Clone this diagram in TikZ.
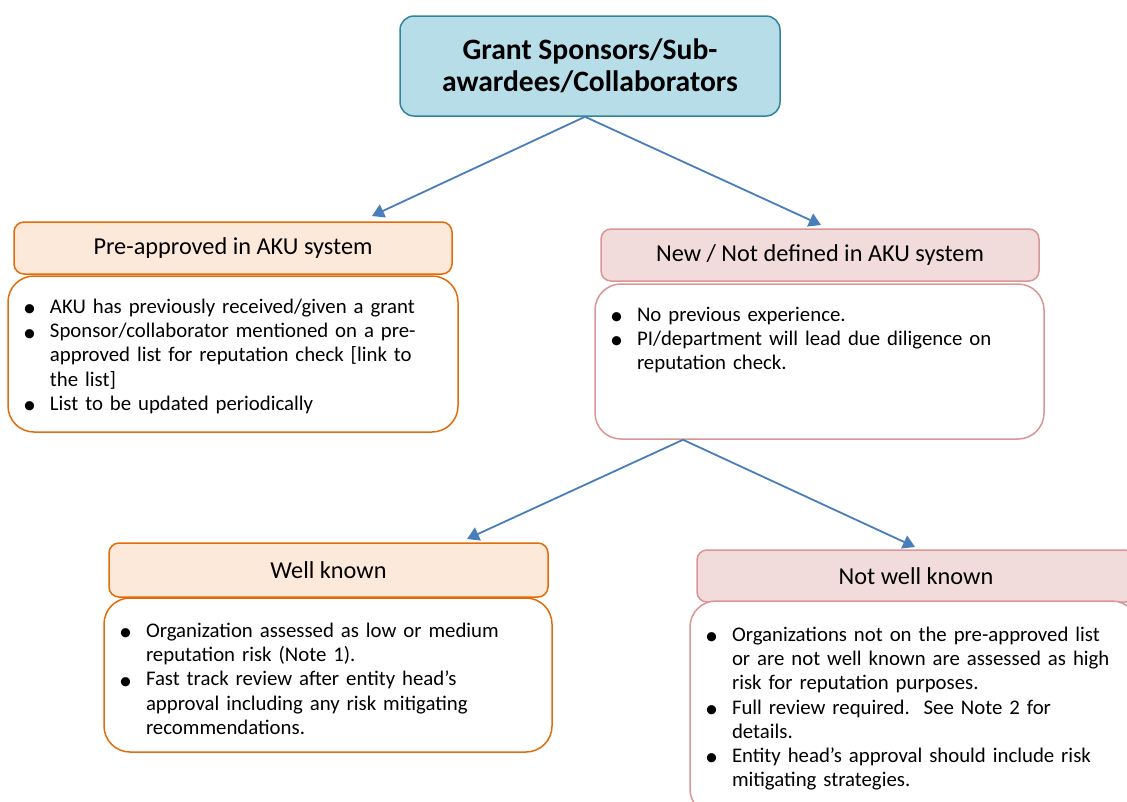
\documentclass[tikz,border=0pt]{standalone}
\usepackage{fontspec}
\setmainfont{Carlito}
\usepackage{enumitem}
\usetikzlibrary{arrows.meta}

\definecolor{tealfill}{HTML}{B7DDE8}
\definecolor{tealline}{HTML}{31849B}
\definecolor{orangefill}{HTML}{FDE9D9}
\definecolor{orangeline}{HTML}{E36C09}
\definecolor{pinkfill}{HTML}{F2DCDB}
\definecolor{pinkline}{HTML}{D99694}
\definecolor{arrowblue}{HTML}{4A7EBB}

% bullet list inside a body box: [top gap], height, items
\newcommand{\boxlist}[3][23pt]{%
  \begin{minipage}[c][#2][t]{\linewidth}
    \vspace*{#1}
    \begin{itemize}[leftmargin=42pt,labelsep=14pt,itemsep=0pt,parsep=0pt,topsep=0pt,partopsep=0pt,
        label={\raisebox{-0.35ex}{\scalebox{1.25}{\textbullet}}}]
      #3
    \end{itemize}
  \end{minipage}}

\begin{document}
\begin{tikzpicture}[x=1pt, y=-1pt,
    headbox/.style={draw, line width=1.5pt, rounded corners=10pt, inner sep=0pt,
      font=\fontsize{24.3}{28}\selectfont},
    bodybox/.style={draw, line width=1.5pt, fill=white, rounded corners=26pt, inner sep=0pt,
      align=left, font=\fontsize{20.8}{24.2}\selectfont},
    flow/.style={draw=arrowblue, line width=1.8pt, -{Triangle[length=12pt,width=14pt]}, arrowblue}]
  \useasboundingbox (0,0) rectangle (1127,801);
  \clip (0,0) rectangle (1127,801);
  % Top box
  \node[draw=tealline, fill=tealfill, line width=1.5pt, rounded corners=14pt,
    minimum width=380pt, minimum height=100pt, align=center,
    font=\fontsize{29.6}{32}\selectfont\bfseries] (top) at (590,66)
    {Grant Sponsors/Sub-\\awardees/Collaborators};
  % Pre-approved branch
  \node[headbox, draw=orangeline, fill=orangefill, minimum width=438pt, minimum height=52pt]
    (prehead) at (233,248) {Pre-approved in AKU system};
  \node[bodybox, draw=orangeline, text width=450pt] (prebody) at (233,354)
    {\boxlist{156pt}{%
      \item AKU has previously received/given a grant
      \item Sponsor/collaborator mentioned on a pre-\newline approved list for reputation check [link to\newline the list]
      \item List to be updated periodically}};
  % New branch
  \node[headbox, draw=pinkline, fill=pinkfill, minimum width=438pt, minimum height=52pt]
    (newhead) at (820,255) {New / Not defined in AKU system};
  \node[bodybox, draw=pinkline, text width=449pt] (newbody) at (819.5,361.5)
    {\boxlist{155pt}{%
      \item No previous experience.
      \item PI/department will lead due diligence on\newline reputation check.}};
  % Well known
  \node[headbox, draw=orangeline, fill=orangefill, minimum width=439pt, minimum height=54pt]
    (wellhead) at (328.5,570) {Well known};
  \node[bodybox, draw=orangeline, text width=448pt] (wellbody) at (328,675)
    {\boxlist[25pt]{154pt}{%
      \item Organization assessed as low or medium\newline reputation risk (Note 1).
      \item Fast track review after entity head’s\newline approval including any risk mitigating\newline recommendations.}};
  % Not well known
  \node[headbox, draw=pinkline, fill=pinkfill, minimum width=438pt, minimum height=52pt]
    (notwellhead) at (916,576) {Not well known};
  \node[bodybox, draw=pinkline, text width=448pt] (notwellbody) at (914,708)
    {\boxlist[26pt]{214pt}{%
      \item Organizations not on the pre-approved list\newline or are not well known are assessed as high\newline risk for reputation purposes.
      \item Full review required.\ \ See Note 2 for\newline details.
      \item Entity head’s approval should include risk\newline mitigating strategies.}};
  % Arrows
  \coordinate (topfork) at ([xshift=-5pt]top.south);
  \coordinate (newfork) at ([xshift=-136.5pt]newbody.south);
  \coordinate (pretip) at (372,216);
  \coordinate (newtip) at (821,225);
  \coordinate (welltip) at (467,539);
  \coordinate (notwelltip) at (915,547);
  \draw[flow] (topfork) -- (pretip);
  \draw[flow] (topfork) -- (newtip);
  \draw[flow] (newfork) -- (welltip);
  \draw[flow] (newfork) -- (notwelltip);
\end{tikzpicture}
\end{document}
